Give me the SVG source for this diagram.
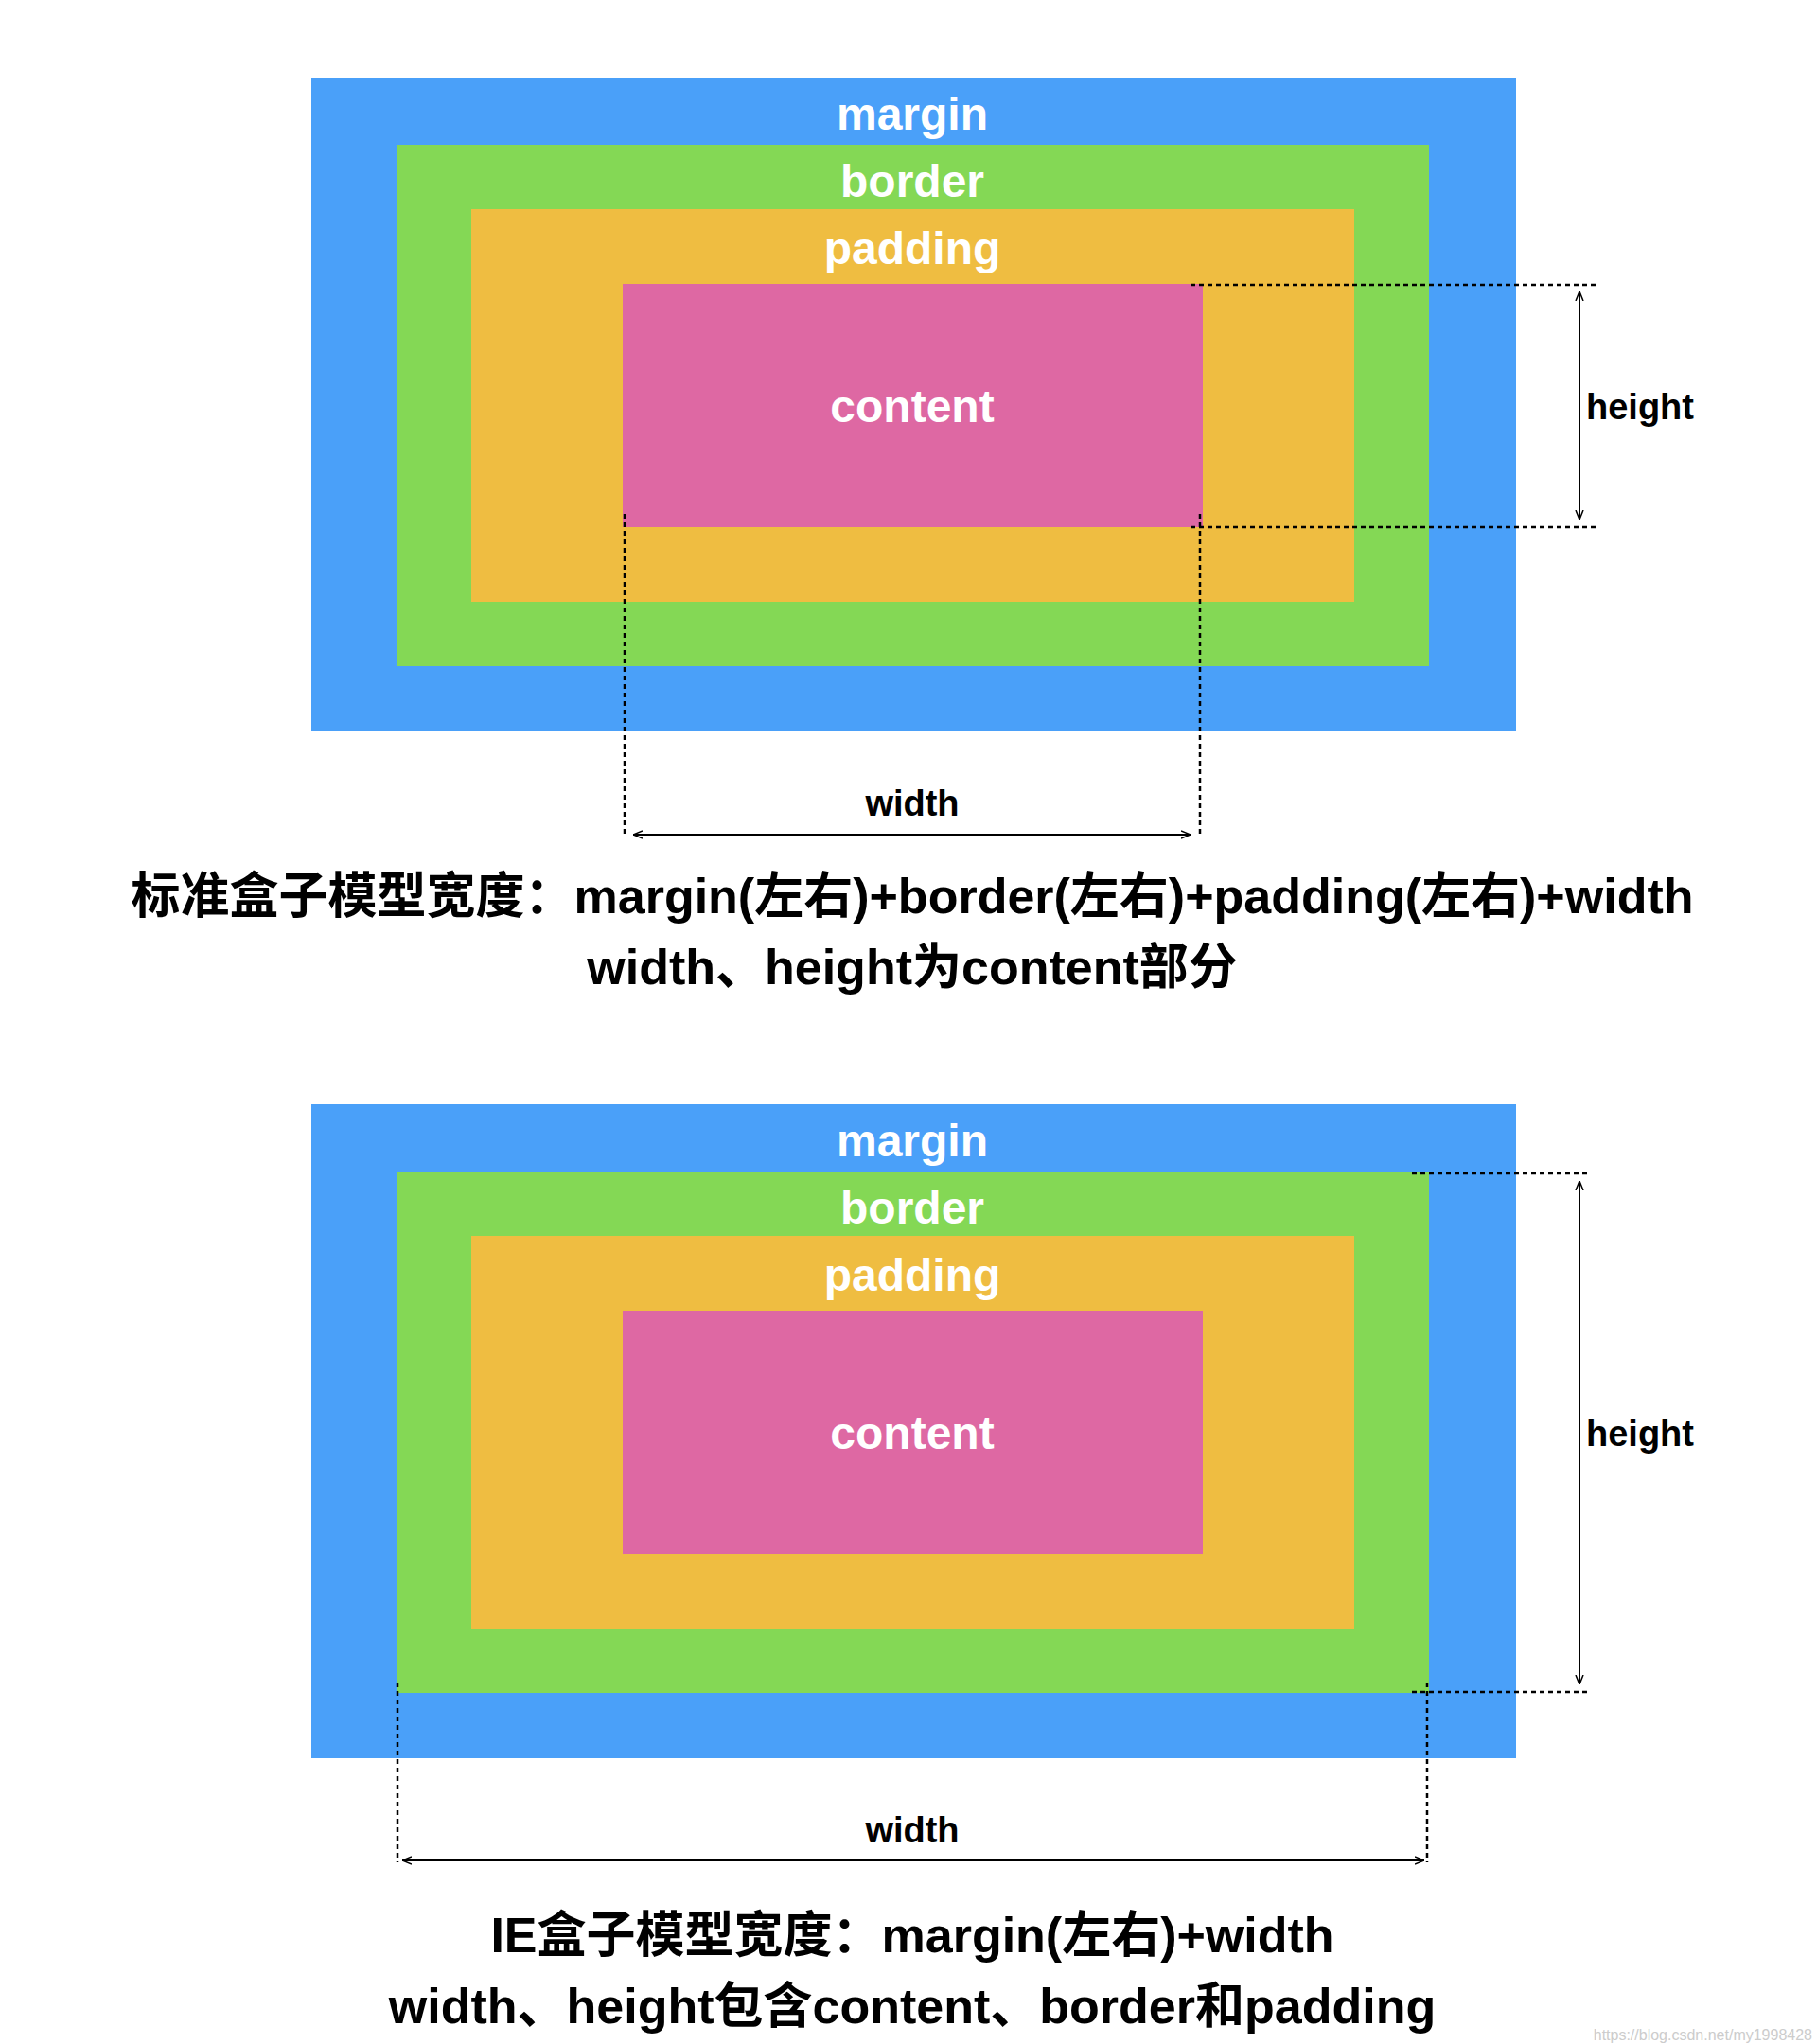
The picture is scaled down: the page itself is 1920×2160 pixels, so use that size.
<svg xmlns="http://www.w3.org/2000/svg" width="1920" height="2160" viewBox="0 0 1920 2160">
<style>
text{font-family:"Liberation Sans","Noto Sans CJK SC",sans-serif;font-weight:bold;text-anchor:middle}
.w{fill:#fff;font-size:48px}
.k{fill:#000;font-size:38px}
.cap{fill:#000;font-size:52px}
.dot{stroke:#000;stroke-width:2.5;stroke-dasharray:5 4;fill:none}
.arr{stroke:#000;stroke-width:2;fill:none;marker-start:url(#a);marker-end:url(#a)}
</style>
<defs>
<marker id="a" viewBox="0 0 10 10" refX="10" refY="5" markerWidth="10" markerHeight="10" orient="auto-start-reverse" markerUnits="userSpaceOnUse"><path d="M0,1 L10,5 L0,9" fill="none" stroke="#000" stroke-width="1.5"/></marker>
</defs>
<rect width="1920" height="2160" fill="#fff"/>
<g id="standard">
<g id="s-margin"><rect x="329" y="82" width="1273" height="691" fill="#4AA0F9"/><text class="w" x="964" y="137">margin</text></g>
<g id="s-border"><rect x="420" y="153" width="1090" height="551" fill="#84D855"/><text class="w" x="964" y="208">border</text></g>
<g id="s-padding"><rect x="498" y="221" width="933" height="415" fill="#EFBD41"/><text class="w" x="964" y="279">padding</text></g>
<g id="s-content"><rect x="658" y="300" width="613" height="257" fill="#DE68A3"/><text class="w" x="964" y="446">content</text></g>
<text class="k" x="1676" y="443" style="text-anchor:start">height</text>
<text class="k" x="964" y="862">width</text>
</g>
<g id="ie">
<g id="i-margin"><rect x="329" y="1167" width="1273" height="691" fill="#4AA0F9"/><text class="w" x="964" y="1222">margin</text></g>
<g id="i-border"><rect x="420" y="1238" width="1090" height="551" fill="#84D855"/><text class="w" x="964" y="1293">border</text></g>
<g id="i-padding"><rect x="498" y="1306" width="933" height="415" fill="#EFBD41"/><text class="w" x="964" y="1364">padding</text></g>
<g id="i-content"><rect x="658" y="1385" width="613" height="257" fill="#DE68A3"/><text class="w" x="964" y="1531">content</text></g>
<text class="k" x="1676" y="1528" style="text-anchor:start">height</text>
<text class="k" x="964" y="1947">width</text>
</g>
<g id="connectors">
<path class="dot" d="M1258,301 H1688 M1258,557 H1688 M660,543 V882 M1268,543 V882"/>
<path class="arr" d="M1669,308 V549"/>
<path class="arr" d="M669,882 H1258"/>
<path class="dot" d="M1492,1240 H1680 M1492,1788 H1680 M420,1778 V1968 M1508,1778 V1968"/>
<path class="arr" d="M1669,1248 V1780"/>
<path class="arr" d="M425,1966 H1505"/>
</g>
<g id="captions">
<text class="cap" x="964" y="965">标准盒子模型宽度：margin(左右)+border(左右)+padding(左右)+width</text>
<text class="cap" x="964" y="1040">width、height为content部分</text>
<text class="cap" x="964" y="2063">IE盒子模型宽度：margin(左右)+width</text>
<text class="cap" x="964" y="2138">width、height包含content、border和padding</text>
<text x="1915" y="2156" style="font-size:16px;font-weight:normal;fill:#ccc;text-anchor:end">https://blog.csdn.net/my1998428</text>
</g>
</svg>
